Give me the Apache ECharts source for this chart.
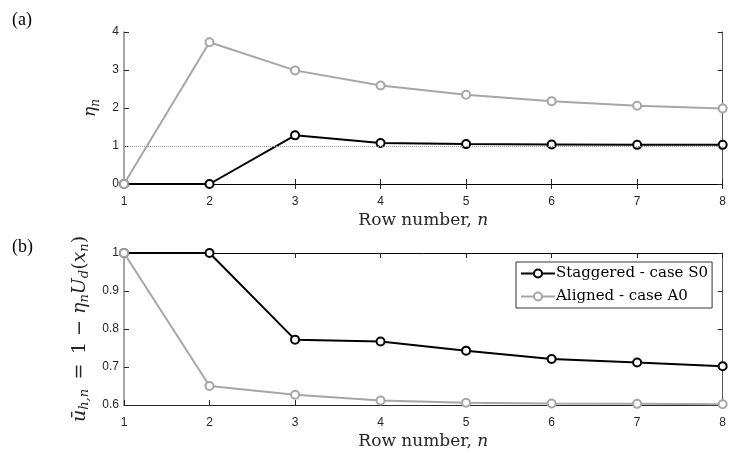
<!DOCTYPE html>
<html><head><meta charset="utf-8">
<script src="https://cdn.jsdelivr.net/npm/echarts@6/dist/echarts.min.js"></script>
<style>html,body{margin:0;padding:0;background:#fff}#c{width:729px;height:455px}</style>
</head><body><div id="c"></div>
<script>
const rows = [1, 2, 3, 4, 5, 6, 7, 8];
const etaStaggered = [0, 0, 1.28, 1.08, 1.05, 1.04, 1.03, 1.03];
const etaAligned = [0, 3.73, 2.99, 2.59, 2.35, 2.18, 2.06, 1.99];
const uStaggered = [1, 1, 0.772, 0.767, 0.743, 0.721, 0.712, 0.702];
const uAligned = [1, 0.650, 0.627, 0.612, 0.606, 0.604, 0.603, 0.602];
const seriesNames = ['Staggered - case S0', 'Aligned - case A0'];
const panelLabels = ['(a)', '(b)'];
const xTitle = 'Row number, {i|n}';

const AX = '#262626';
const AXL = '#8a8a8a';
const SERIF = '"DejaVu Serif", "Liberation Serif", serif';
const TSERIF = '"Liberation Serif", serif';
const SANS = '"Liberation Sans", Arial, sans-serif';
const pair = arr => rows.map((r, i) => [r, arr[i]]);

const italicRich = { i: { fontFamily: SERIF, fontStyle: 'italic', fontSize: 17, color: AX } };
const subRich = {
  i: { fontFamily: SERIF, fontStyle: 'italic', fontSize: 19, color: AX },
  r: { fontFamily: SERIF, fontSize: 19, color: AX },
  s: { fontFamily: SERIF, fontStyle: 'italic', fontSize: 13, color: AX, padding: [10, 0, 0, 0] }
};

function xAxes(gi) {
  return [
    { type: 'value', gridIndex: gi, min: 1, max: 8, interval: 1, position: 'bottom',
      axisLine: { lineStyle: { color: AX, width: 1 } },
      axisTick: { inside: true, length: 5, lineStyle: { color: AX } },
      axisLabel: { color: AX, fontFamily: SANS, fontSize: 12, margin: 12 },
      splitLine: { show: false },
      name: xTitle, nameLocation: 'middle', nameGap: 28,
      nameTextStyle: { fontFamily: SERIF, fontSize: 17, color: AX, rich: italicRich } },
    { type: 'value', gridIndex: gi, min: 1, max: 8, interval: 1, position: 'top',
      axisLine: { lineStyle: { color: '#000', width: 1 } },
      axisTick: { inside: true, length: 5, lineStyle: { color: AX } },
      axisLabel: { show: false }, splitLine: { show: false } }
  ];
}
function yAxes(gi, min, max, interval, name, gap, rich) {
  return [
    { type: 'value', gridIndex: gi, min: min, max: max, interval: interval, position: 'left',
      axisLine: { show: true, lineStyle: { color: AXL, width: 1.5 } },
      axisTick: { show: true, inside: true, length: 5, lineStyle: { color: AX } },
      axisLabel: { color: AX, fontFamily: SANS, fontSize: 12, margin: 5,
        formatter: v => String(+v.toFixed(2)) },
      splitLine: { show: false },
      name: name, nameLocation: 'middle', nameGap: gap, nameRotate: 90,
      nameTextStyle: { fontFamily: SERIF, fontSize: 17, color: AX, rich: rich } },
    { type: 'value', gridIndex: gi, min: min, max: max, interval: interval, position: 'right',
      axisLine: { show: true, lineStyle: { color: '#555', width: 1 } },
      axisTick: { show: true, inside: true, length: 5, lineStyle: { color: AX } },
      axisLabel: { show: false }, splitLine: { show: false } }
  ];
}
function line(name, xi, yi, data, color, z) {
  return { name: name, type: 'line', xAxisIndex: xi, yAxisIndex: yi, data: data,
    symbol: 'emptyCircle', symbolSize: 8, showSymbol: true, z: z,
    lineStyle: { color: color, width: 2 },
    itemStyle: { color: color, borderColor: color, borderWidth: 2 },
    animation: false };
}

const etaRich = {
  i: { fontFamily: SERIF, fontStyle: 'italic', fontSize: 17, color: AX },
  s: { fontFamily: SERIF, fontStyle: 'italic', fontSize: 12, color: AX, padding: [9, 0, 0, 0] }
};

const chart = echarts.init(document.getElementById('c'), null, { renderer: 'canvas' });
chart.setOption({
  animation: false,
  backgroundColor: '#fff',
  title: [
    { text: panelLabels[0], left: 7, top: 6, textStyle: { fontFamily: TSERIF, fontSize: 18, fontWeight: 'normal', color: '#000' } },
    { text: panelLabels[1], left: 7, top: 233, textStyle: { fontFamily: TSERIF, fontSize: 18, fontWeight: 'normal', color: '#000' } }
  ],
  grid: [
    { left: 124, right: 3, top: 32, height: 152 },
    { left: 124, right: 3, top: 253, height: 152 }
  ],
  legend: {
    data: seriesNames, orient: 'vertical', left: 516, top: 262, width: 200,
    backgroundColor: '#fff', borderColor: '#333', borderWidth: 1,
    padding: [4, 4, 4, 4], itemGap: 8, itemWidth: 34, itemHeight: 10,
    textStyle: { fontFamily: SERIF, fontSize: 15, color: '#000', padding: [0, 0, 0, -4] }
  },
  xAxis: [...xAxes(0), ...xAxes(1)],
  yAxis: [
    ...yAxes(0, 0, 4, 1, '{i|η}{s|n}', 16, etaRich),
    ...yAxes(1, 0.6, 1, 0.1, '{i|ū}{s|h,n}{r|\u2002=\u20021 − }{i|η}{s|n}{i|U}{s|d}{r|(}{i|x}{s|n}{r|)}', 30, subRich)
  ],
  series: [
    Object.assign(line(seriesNames[0], 0, 0, pair(etaStaggered), '#000000', 3), {
      markLine: { silent: true, symbol: 'none', label: { show: false },
        lineStyle: { color: '#999', type: 'dotted', width: 1 }, data: [{ yAxis: 1 }] } }),
    line(seriesNames[1], 0, 0, pair(etaAligned), '#a6a6a6', 4),
    line(seriesNames[0], 2, 2, pair(uStaggered), '#000000', 3),
    line(seriesNames[1], 2, 2, pair(uAligned), '#a6a6a6', 4)
  ]
});
</script></body></html>
